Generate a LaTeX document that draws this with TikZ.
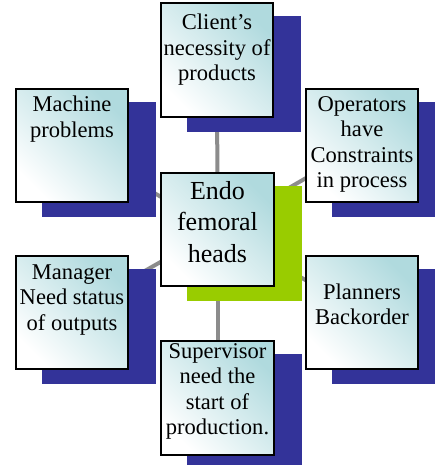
\documentclass[tikz,border=0pt]{standalone}
\usepackage{fontspec}
\setmainfont{Liberation Serif}
\usetikzlibrary{backgrounds}

\definecolor{shadowblue}{RGB}{51,51,153}
\definecolor{hubgreen}{RGB}{153,204,0}
\definecolor{linkgray}{RGB}{140,140,140}
\definecolor{boxteal}{RGB}{176,218,222}

\begin{document}
\begin{tikzpicture}[x=0.75pt,y=-0.75pt,
  cardbox/.style={draw=black, line width=1.2pt, minimum width=84.4pt,
    minimum height=85.1pt, inner sep=0pt,
    top color=boxteal, middle color=boxteal!35!white, bottom color=white,
    shading angle=-45},
  cardtext/.style={anchor=north, inner sep=0pt, align=center,
    font=\fontsize{16.9}{19.1}\selectfont},
  hubtext/.style={cardtext, font=\fontsize{19.5}{23.6}\selectfont},
  link/.style={draw=linkgray, line width=3pt}]

\useasboundingbox (0,0) rectangle (435,465);

% cards
\node[cardbox] (client)     at (217,60)    {};
\node[cardbox] (machine)    at (72,145.5)  {};
\node[cardbox] (operators)  at (362,145.5) {};
\node[cardbox] (hub)        at (217.5,229.5) {};
\node[cardbox] (manager)    at (72,312.5)  {};
\node[cardbox] (planners)   at (362,312.5) {};
\node[cardbox] (supervisor) at (217.5,398) {};

% card texts
\node[cardtext] (clientT)     at (217,14)    {Client’s\\necessity of\\products};
\node[cardtext] (machineT)    at (72,96)     {Machine\\problems};
\node[cardtext] (operatorsT)  at (362,96)    {Operators\\have\\Constraints\\in process};
\node[hubtext]  (hubT)        at (217.5,181) {Endo\\femoral\\heads};
\node[cardtext] (managerT)    at (72,264.5)  {Manager\\Need status\\of outputs};
\node[cardtext] (plannersT)   at (362,283.5) {Planners\\Backorder};
\node[cardtext] (supervisorT) at (217.5,343) {Supervisor\\need the\\start of\\production.};

\begin{scope}[on background layer]
  % spokes from the hub
  \foreach \n in {client,machine,operators,manager,planners,supervisor}
    \draw[link] (hub.center) -- (\n.center);
  % drop shades
  \foreach \n in {client,machine,operators,manager,planners,supervisor}
    \fill[shadowblue] ([shift={(27,14)}]\n.north west) rectangle ([shift={(27,14)}]\n.south east);
  \fill[hubgreen] ([shift={(27,14)}]hub.north west) rectangle ([shift={(27,14)}]hub.south east);
\end{scope}
\end{tikzpicture}
\end{document}
